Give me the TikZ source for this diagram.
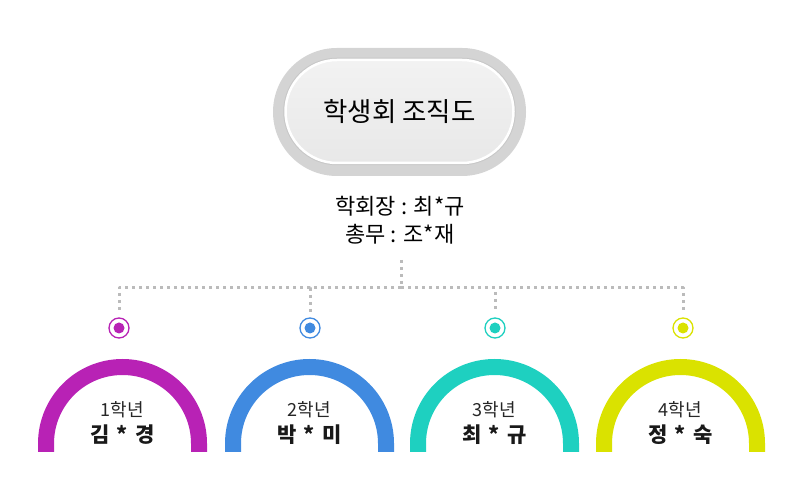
\documentclass[tikz,border=0pt]{standalone}
\usepackage{fontspec}
\setmainfont{Noto Sans CJK KR}
\usetikzlibrary{calc,positioning}

\definecolor{gpurple}{HTML}{B822B5}
\definecolor{gblue}{HTML}{408AE0}
\definecolor{gteal}{HTML}{1ED0C0}
\definecolor{glime}{HTML}{DAE200}
\definecolor{dotgray}{HTML}{BBBBBB}
\definecolor{pillgray}{HTML}{D4D4D4}

\newcommand{\gap}{\hspace{0.35em}}

\begin{document}
\begin{tikzpicture}[x=1pt,y=1pt, line join=round]

% ---------- styles ----------
\tikzset{
  frame/.style={rectangle, fill=pillgray, minimum width=253pt, minimum height=128pt, rounded corners=64pt, inner sep=0pt},
  titlepill/.style={rectangle, minimum width=228pt, minimum height=103pt, rounded corners=51.5pt, inner sep=0pt,
    top color=white!95!black, bottom color=white!91!black, draw=white, line width=2.5pt,
    preaction={draw=black!22, line width=4.5pt}, font=\fontsize{26.5}{30}\selectfont},
  stafftext/.style={align=center, font=\fontsize{22}{28}\selectfont},
  dotline/.style={draw=dotgray, line width=3pt, dash pattern=on 3pt off 4pt},
  marker/.style={circle, draw=#1, fill=white, line width=1.3pt, minimum size=20pt, inner sep=0pt},
  gradearc/.style={draw=#1, line width=16pt, line cap=butt},
  gradetext/.style={font=\fontsize{18}{20}\selectfont, text=black!85},
  nametext/.style={font=\bfseries\fontsize{21}{24}\selectfont, text=black!90},
}

% ---------- canvas ----------
\useasboundingbox (0,0) rectangle (800,500);

% ---------- title ----------
\node[frame] (outer) at (399.5,388) {};
\node[titlepill] (title) at (399.5,388.5) {학생회 조직도};

% ---------- officers ----------
\node[stafftext] (staff) at (400,280) {학회장 : 최*규\\총무 : 조*재};

% ---------- dotted tree ----------
\coordinate (top) at (401,240);
\coordinate (hub) at (401,212);

% grade markers
\node[marker=gpurple] (m1) at (119,172) {};
\node[marker=gblue]   (m2) at (310,172) {};
\node[marker=gteal]   (m3) at (495,172) {};
\node[marker=glime]   (m4) at (683,172) {};
\fill[gpurple] (m1) circle (5.5);
\fill[gblue]   (m2) circle (5.5);
\fill[gteal]   (m3) circle (5.5);
\fill[glime]   (m4) circle (5.5);

\draw[dotline] (top) -- (hub);
\draw[dotline, shorten >=5pt] (hub) -| (m1.north);
\draw[dotline, shorten >=5pt] (hub) -| (m2.north);
\draw[dotline, shorten >=5pt] (hub) -| (m3.north);
\draw[dotline, shorten >=5pt] (hub) -| (m4.north);

% ---------- grade arcs ----------
\draw[gradearc=gpurple] (46,48) -- (46,56.5) arc[start angle=180, end angle=0, radius=76.5] -- (199,48);
\draw[gradearc=gblue]   (233,48) -- (233,56.5) arc[start angle=180, end angle=0, radius=76.5] -- (386,48);
\draw[gradearc=gteal]   (418,48) -- (418,56.5) arc[start angle=180, end angle=0, radius=76.5] -- (571,48);
\draw[gradearc=glime]   (604,48) -- (604,56.5) arc[start angle=180, end angle=0, radius=76.5] -- (757,48);

% ---------- grade labels ----------
\node[gradetext] (g1) at (122.5,90) {1학년};
\node[nametext, below=0pt of g1] (n1) {김\gap*\gap 경};
\node[gradetext] (g2) at (309.5,90) {2학년};
\node[nametext, below=0pt of g2] (n2) {박\gap*\gap 미};
\node[gradetext] (g3) at (494.5,90) {3학년};
\node[nametext, below=0pt of g3] (n3) {최\gap*\gap 규};
\node[gradetext] (g4) at (680.5,90) {4학년};
\node[nametext, below=0pt of g4] (n4) {정\gap*\gap 숙};

\end{tikzpicture}
\end{document}
